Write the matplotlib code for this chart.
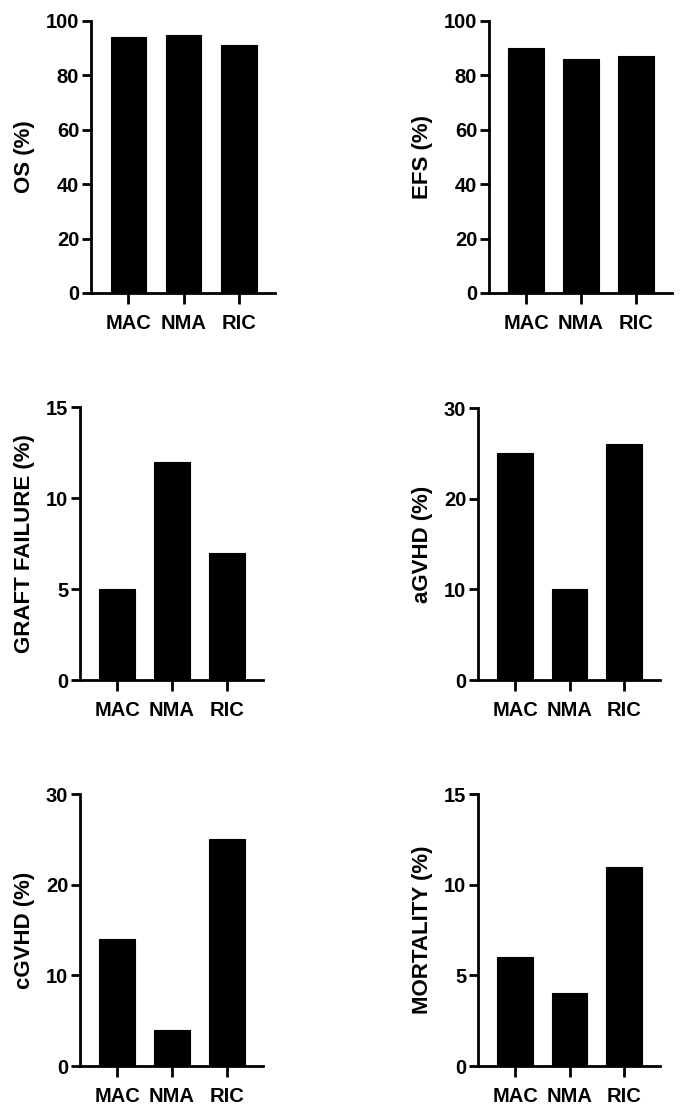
import matplotlib
matplotlib.use("Agg")
import matplotlib.pyplot as plt

plt.rcParams['font.family'] = ['Liberation Sans', 'DejaVu Sans']
plt.rcParams['font.weight'] = 'bold'

categories = ["MAC", "NMA", "RIC"]

os_vals = [94, 95, 91]
efs_vals = [90, 86, 87]
graft_vals = [5, 12, 7]
agvhd_vals = [25, 10, 26]
cgvhd_vals = [14, 4, 25]
mort_vals = [6, 4, 11]

ylabels = ["OS (%)", "EFS (%)", "GRAFT FAILURE (%)", "aGVHD (%)", "cGVHD (%)", "MORTALITY (%)"]
ymaxes = [100, 100, 15, 30, 30, 15]
ysteps = [20, 20, 5, 10, 10, 5]
series = [os_vals, efs_vals, graft_vals, agvhd_vals, cgvhd_vals, mort_vals]

W, H = 680, 1111
fig = plt.figure(figsize=(W / 100, H / 100), dpi=100)

# pixel boxes: (x_left, x_right, y_top, y_bottom)
boxes = [
    (91, 275, 21, 293),
    (489, 672, 21, 293),
    (80, 263, 407, 680),
    (478, 660, 408, 680),
    (80, 263, 794, 1066),
    (478, 660, 794, 1066),
]

for (x0, x1, yt, yb), vals, lab, ymax, ystep in zip(boxes, series, ylabels, ymaxes, ysteps):
    ax = fig.add_axes([x0 / W, 1 - yb / H, (x1 - x0) / W, (yb - yt) / H])
    xs = list(range(len(categories)))
    ax.bar(xs, vals, width=0.65, color='black', edgecolor='black', linewidth=0.8)
    ax.set_xlim(-0.68, 2.66)
    ax.set_ylim(0, ymax)
    ax.set_yticks(list(range(0, ymax + 1, ystep)))
    ax.set_xticks(xs)
    ax.set_xticklabels(categories, fontsize=14.5, fontweight='bold')
    for t in ax.get_yticklabels():
        t.set_fontsize(14.5)
        t.set_fontweight('bold')
    ax.set_ylabel(lab, fontsize=16, fontweight='bold', labelpad=8)
    for s in ['top', 'right']:
        ax.spines[s].set_visible(False)
    for s in ['left', 'bottom']:
        ax.spines[s].set_linewidth(2)
        ax.spines[s].set_color('black')
    ax.tick_params(axis='y', length=6.5, width=2, pad=2, colors='black')
    ax.tick_params(axis='x', length=8, width=2, pad=7, colors='black')
    ax.set_facecolor('white')

fig.savefig("out.png", dpi=100, facecolor='white')
